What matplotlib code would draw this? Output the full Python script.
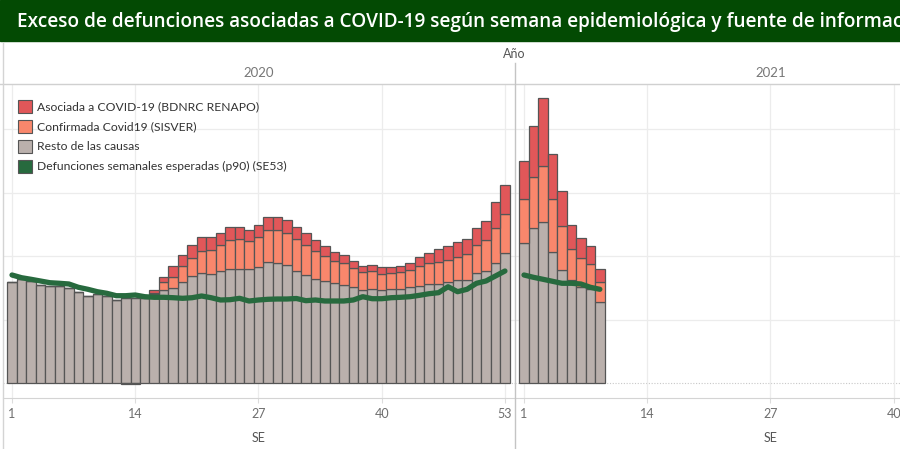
import numpy as np
import matplotlib
matplotlib.use("Agg")
import matplotlib.pyplot as plt
from matplotlib.patches import Rectangle
from matplotlib.lines import Line2D

plt.rcParams['font.family'] = ['Lato', 'DejaVu Sans']

# datos (defunciones por semana epidemiologica)
semanas_2020 = list(range(1, 54))
resto_2020 = [16000, 16425, 16110, 15480, 15320, 15320, 14960, 14330, 13795, 14015,
              13795, 13120, 13385, 13385, 13385, 14015, 14645, 14960, 16000, 16850,
              17320, 17165, 17640, 17950, 17950, 17950, 18270, 19055, 18900, 18630,
              17640, 17010, 16470, 16160, 15750, 15530, 15120, 14645, 14900, 14645,
              14800, 14900, 15120, 15275, 15685, 15685, 16000, 16220, 16220, 17320,
              17640, 18900, 20470]
confirmada_2020 = [0, 0, 0, 0, 0, 0, 0, 0, 0, 0,
                   0, 0, 0, 0, 0, 250, 1260, 1825, 2425, 2835,
                   3510, 3825, 4095, 4615, 4725, 4410, 4725, 5040, 5195, 4990,
                   5040, 4820, 4315, 3890, 3560, 3465, 2990, 2835, 2740, 2565,
                   2520, 2585, 2675, 3150, 3210, 3370, 3415, 3715, 4095, 4410,
                   4880, 5510, 6140]
asociada_2020 = [0, 0, 0, 0, 0, 0, 0, 0, 0, 0,
                 0, 0, -120, -120, 0, 380, 790, 1640, 1825, 2140,
                 2160, 2000, 1890, 2000, 1890, 1730, 1985, 2045, 2045, 2045,
                 1985, 1890, 1730, 1620, 1415, 1260, 1195, 1040, 1040, 1055,
                 945, 1040, 1100, 1415, 1575, 2045, 2160, 2270, 2360, 2680,
                 3085, 4095, 4565]
esperadas_2020 = [17055, 16630, 16380, 16110, 15840, 15750, 15640, 15120, 14805, 14425,
                  14175, 13795, 13795, 13905, 13640, 13545, 13545, 13480, 13385, 13480,
                  13750, 13480, 13120, 13165, 13385, 12960, 13120, 13230, 13275, 13275,
                  13355, 13010, 13120, 12960, 12960, 12960, 13120, 13640, 13320, 13320,
                  13480, 13545, 13640, 13860, 14110, 14270, 15210, 14425, 14805, 15750,
                  16110, 16900, 17685]

semanas_2021 = list(range(1, 10))
resto_2021 = [22050, 24410, 25355, 20630, 17795, 16270, 15210, 14805, 12755]
confirmada_2021 = [6930, 8030, 8820, 8345, 6930, 4835, 4470, 3935, 3150]
asociada_2021 = [6030, 8030, 10710, 7085, 5510, 3780, 3150, 2835, 2045]
esperadas_2021 = [17055, 16690, 16380, 16065, 15750, 15750, 15640, 15120, 14805]

etiquetas = ["Asociada a COVID-19 (BDNRC RENAPO)", "Confirmada Covid19 (SISVER)",
             "Resto de las causas", "Defunciones semanales esperadas (p90) (SE53)"]
colores = ["#e15759", "#f9876c", "#bab0ac", "#276a3e"]
titulo = "Exceso de defunciones asociadas a COVID-19 según semana epidemiológica y fuente de información"

W, H = 900, 449
fig = plt.figure(figsize=(W / 100, H / 100), dpi=100)


def fx(px):
    return px / W


def fy(py):
    return 1 - py / H


def panel(x0, semanas, resto, conf, asoc, esperadas, ticks):
    ax = fig.add_axes([fx(x0), fy(398), fx(512), (398 - 84) / H])
    semanas = np.array(semanas)
    resto = np.array(resto)
    conf = np.array(conf)
    asoc = np.array(asoc)
    kw = dict(width=1.0, edgecolor="#555555", linewidth=0.9, zorder=3)
    ax.bar(semanas, resto, color=colores[2], **kw)
    ax.bar(semanas, conf, bottom=resto, color=colores[1], **kw)
    base = np.where(asoc >= 0, resto + conf, 0)
    ax.bar(semanas, asoc, bottom=base, color=colores[0], **kw)
    ax.plot(semanas, esperadas, color=colores[3], lw=3.8, solid_capstyle="round",
            solid_joinstyle="round", zorder=5)
    ax.set_xlim(0.05, 54.06)
    ax.set_ylim(-2315, 47134)
    ax.set_xticks(ticks)
    ax.set_yticks([10000, 20000, 30000, 40000])
    ax.set_yticklabels([])
    ax.grid(True, color="#ececec", lw=0.9, zorder=0)
    ax.axhline(0, color="#c8c8c8", lw=0.8, ls=(0, (1, 1.5)), zorder=1)
    for s in ["left", "right", "top"]:
        ax.spines[s].set_visible(False)
    ax.spines["bottom"].set_color("#d4d4d4")
    ax.tick_params(axis="y", length=0)
    ax.tick_params(axis="x", length=3.5, color="#dcdcdc", pad=4,
                   labelsize=9, labelcolor="#6e6e6e")
    return ax


panel(3, semanas_2020, resto_2020, confirmada_2020, asociada_2020, esperadas_2020,
      [1, 14, 27, 40, 53])
panel(515, semanas_2021, resto_2021, confirmada_2021, asociada_2021, esperadas_2021,
      [1, 14, 27, 40, 53])

# barra del titulo
fig.patches.append(Rectangle((0, fy(40.7)), 1, 40.7 / H, transform=fig.transFigure,
                             color="#034a03", zorder=0))
fig.text(fx(17), fy(22.5), titulo, color="white", fontsize=13.7, weight="semibold",
         family=["Open Sans", "DejaVu Sans"], va="center", ha="left")

# encabezados
fig.lines.append(Line2D([0, 1], [fy(84), fy(84)], transform=fig.transFigure,
                        color="#d0d0d0", lw=1))
fig.lines.append(Line2D([fx(3), fx(3)], [fy(43), 0], transform=fig.transFigure,
                        color="#d4d4d4", lw=1))
fig.lines.append(Line2D([fx(515), fx(515)], [fy(63), 0], transform=fig.transFigure,
                        color="#c4c4c4", lw=1))
fig.text(fx(514), fy(54), "Año", color="#555555", fontsize=9, ha="center", va="center")
fig.text(fx(259), fy(73), "2020", color="#777777", fontsize=9.5, ha="center", va="center")
fig.text(fx(771), fy(73), "2021", color="#777777", fontsize=9.5, ha="center", va="center")
fig.text(fx(259), fy(438), "SE", color="#555555", fontsize=9, ha="center", va="center")
fig.text(fx(771), fy(438), "SE", color="#555555", fontsize=9, ha="center", va="center")

# leyenda
for i, (etq, col) in enumerate(zip(etiquetas, colores)):
    yc = 106.3 + 20 * i
    fig.patches.append(Rectangle((fx(18.3), fy(yc + 6.7)), fx(13.4), 13.4 / H,
                                 transform=fig.transFigure, facecolor=col,
                                 edgecolor="#555555", lw=0.8))
    fig.text(fx(37), fy(yc), etq, color="#333333", fontsize=8.7, ha="left", va="center")

fig.savefig("out.png", dpi=100)
